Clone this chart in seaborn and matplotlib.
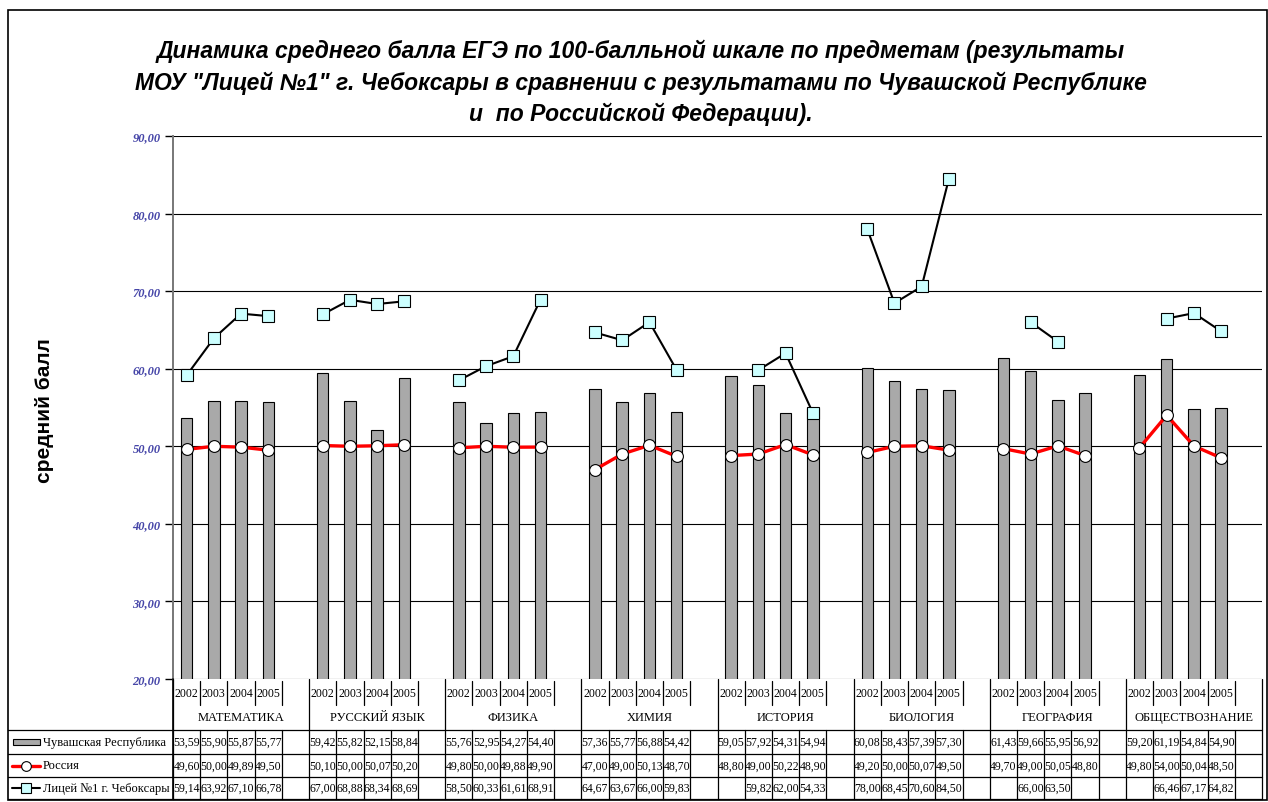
import matplotlib
matplotlib.use("Agg")
import matplotlib.pyplot as plt
import matplotlib.transforms as mtransforms
from matplotlib.lines import Line2D
from matplotlib.patches import Rectangle
import numpy as np
import pandas as pd
import seaborn as sns

subjects = ["МАТЕМАТИКА", "РУССКИЙ ЯЗЫК", "ФИЗИКА", "ХИМИЯ",
            "ИСТОРИЯ", "БИОЛОГИЯ", "ГЕОГРАФИЯ", "ОБЩЕСТВОЗНАНИЕ"]
years = ["2002", "2003", "2004", "2005"]

chuvashia = [
    [53.59, 55.90, 55.87, 55.77],
    [59.42, 55.82, 52.15, 58.84],
    [55.76, 52.95, 54.27, 54.40],
    [57.36, 55.77, 56.88, 54.42],
    [59.05, 57.92, 54.31, 54.94],
    [60.08, 58.43, 57.39, 57.30],
    [61.43, 59.66, 55.95, 56.92],
    [59.20, 61.19, 54.84, 54.90],
]
russia = [
    [49.60, 50.00, 49.89, 49.50],
    [50.10, 50.00, 50.07, 50.20],
    [49.80, 50.00, 49.88, 49.90],
    [47.00, 49.00, 50.13, 48.70],
    [48.80, 49.00, 50.22, 48.90],
    [49.20, 50.00, 50.07, 49.50],
    [49.70, 49.00, 50.05, 48.80],
    [49.80, 54.00, 50.04, 48.50],
]
lyceum = [
    [59.14, 63.92, 67.10, 66.78],
    [67.00, 68.88, 68.34, 68.69],
    [58.50, 60.33, 61.61, 68.91],
    [64.67, 63.67, 66.00, 59.83],
    [np.nan, 59.82, 62.00, 54.33],
    [78.00, 68.45, 70.60, 84.50],
    [np.nan, 66.00, 63.50, np.nan],
    [np.nan, 66.46, 67.17, 64.82],
]

series_names = ["Чувашская Республика", "Россия", "Лицей №1 г. Чебоксары"]
title = ('Динамика среднего балла ЕГЭ по 100-балльной шкале по предметам (результаты\n'
         'МОУ "Лицей №1" г. Чебоксары в сравнении с результатами по Чувашской Республике\n'
         'и  по Российской Федерации).')

# one empty slot after every subject group, like the excel category axis
slots, chuv_s, rus_s, lyc_s = [], [], [], []
for i, s in enumerate(subjects):
    for j, y in enumerate(years):
        slots.append(f"{s} {y}")
        chuv_s.append(chuvashia[i][j])
        rus_s.append(russia[i][j])
        lyc_s.append(lyceum[i][j])
    slots.append(f"{s} -")
    chuv_s.append(np.nan)
    rus_s.append(np.nan)
    lyc_s.append(np.nan)

df = pd.DataFrame({"slot": slots, "chuv": chuv_s, "rus": rus_s, "lyc": lyc_s})

sns.set_style("white")
plt.rcParams["font.family"] = ["Liberation Serif", "DejaVu Serif"]
plt.rcParams["text.color"] = "black"

W, H = 1268, 803
fig = plt.figure(figsize=(W / 100, H / 100), dpi=100)


def fx(px):
    return px / W


def fy(py):
    return 1 - py / H


ax = fig.add_axes([fx(173), fy(680), fx(1262) - fx(173), fy(137) - fy(680)])

sns.barplot(data=df.dropna(subset=["chuv"]), x="slot", y="chuv", order=slots,
            color="#a9a9a9", saturation=1, width=0.42, edgecolor="black",
            linewidth=0.8, errorbar=None, ax=ax, zorder=3)

xs = np.arange(len(slots))
ax.plot(xs, df["rus"], color="#ff0000", lw=2.4, marker="o", ms=8.5,
        mfc="white", mec="black", mew=0.8, zorder=5)
ax.plot(xs, df["lyc"], color="black", lw=1.5, marker="s", ms=9,
        mfc="#ccffff", mec="black", mew=0.8, zorder=5)

ax.set_xlim(-0.5, len(slots) - 0.5)
ax.set_ylim(20, 90)
ax.set_yticks(range(20, 91, 10))
ax.set_yticklabels([f"{v},00" for v in range(20, 91, 10)],
                   fontsize=9, fontweight="bold", fontstyle="italic",
                   color="#4646a8")
ax.set_xticks([])
ax.set_xlabel("")
ax.set_ylabel("")
ax.yaxis.grid(True, color="black", lw=0.8)
ax.set_axisbelow(True)
for side in ["top", "right", "bottom"]:
    ax.spines[side].set_visible(False)
ax.spines["left"].set_color("#777777")
ax.spines["left"].set_linewidth(1.4)
ax.tick_params(axis="y", left=True, length=6, width=1, color="black", pad=3)

# data table under the axis
tr = mtransforms.blended_transform_factory(ax.transData, fig.transFigure)
x_right = len(slots) - 0.5

def fline(x0, x1, y0, y1, transform, lw=0.9):
    fig.add_artist(Line2D([x0, x1], [y0, y1], transform=transform,
                          color="black", lw=lw))

row_lines = [731, 755, 778, 800]
for py in row_lines:
    fline(fx(8), fx(173), fy(py), fy(py), fig.transFigure)
    fline(-0.5, x_right, fy(py), fy(py), tr)

fline(fx(173), fx(173), fy(680), fy(800), fig.transFigure, lw=1.2)
for k in range(len(slots) + 1):
    xb = k - 0.5
    if k % 5 == 0:
        fline(xb, xb, fy(680), fy(800), tr)
    else:
        fline(xb, xb, fy(682), fy(706), tr)
        fline(xb, xb, fy(731), fy(800), tr)

for i, s in enumerate(slots):
    yr = s.split()[-1]
    if yr != "-":
        ax.text(i, fy(694), yr, transform=tr, ha="center", va="center",
                fontsize=8.5)
for g, s in enumerate(subjects):
    ax.text(g * 5 + 2, fy(718), s, transform=tr, ha="center", va="center",
            fontsize=9)


def fmt(v):
    return "" if np.isnan(v) else f"{v:.2f}".replace(".", ",")


row_mid = [743, 766.5, 789]
for r, col in enumerate(["chuv", "rus", "lyc"]):
    for i, v in enumerate(df[col]):
        ax.text(i, fy(row_mid[r]), fmt(v), transform=tr, ha="center",
                va="center", fontsize=8.5)
    fig.text(fx(43), fy(row_mid[r]), series_names[r], ha="left",
             va="center", fontsize=9)

# legend keys in the row labels
fig.add_artist(Rectangle((fx(13), fy(746)), fx(27), fy(740) - fy(746),
                         transform=fig.transFigure, facecolor="#a9a9a9",
                         edgecolor="black", lw=0.8))
fig.add_artist(Line2D([fx(12), fx(40)], [fy(766.5)] * 2,
                      transform=fig.transFigure, color="#ff0000", lw=2.4))
fig.add_artist(Line2D([fx(26)], [fy(766.5)], transform=fig.transFigure,
                      marker="o", ms=7, mfc="white", mec="black", mew=0.8))
fig.add_artist(Line2D([fx(12), fx(40)], [fy(789)] * 2,
                      transform=fig.transFigure, color="black", lw=1.5))
fig.add_artist(Line2D([fx(26)], [fy(789)], transform=fig.transFigure,
                      marker="s", ms=7, mfc="#ccffff", mec="black", mew=0.8))

fig.text(fx(641), fy(83), title, ha="center", va="center", fontsize=16.5,
         fontweight="bold", fontstyle="italic", linespacing=1.45,
         color="black", family=["Liberation Sans", "DejaVu Sans"])
fig.text(fx(45), fy(411), "средний балл", rotation=90, ha="center",
         va="center", fontsize=15, fontweight="bold", color="black",
         family=["Liberation Sans", "DejaVu Sans"])

fig.add_artist(Rectangle((fx(8), fy(801)), fx(1267) - fx(8), fy(11) - fy(801),
                         transform=fig.transFigure, facecolor="none",
                         edgecolor="black", lw=1.2))

fig.savefig("out.png", dpi=100)
plt.close(fig)
